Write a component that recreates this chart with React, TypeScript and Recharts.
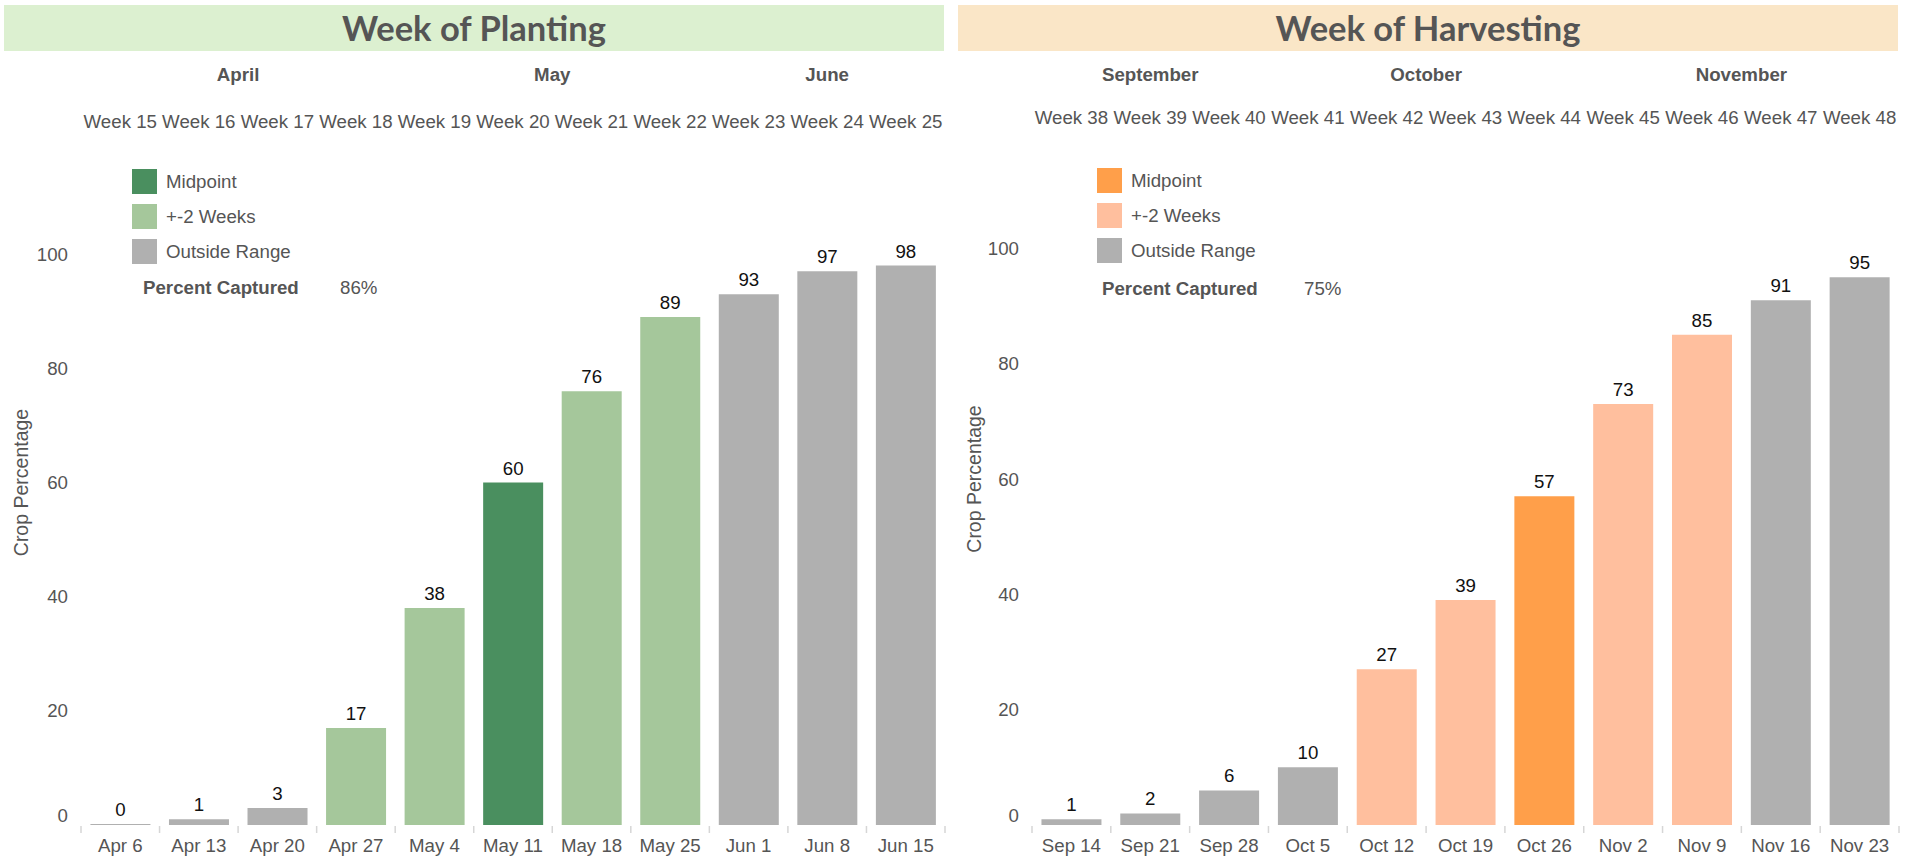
import React from 'react';
import { BarChart, Bar, XAxis, YAxis, Cell, LabelList } from 'recharts';

// ---- data ----
const plantingWeeks = ['Week 15', 'Week 16', 'Week 17', 'Week 18', 'Week 19', 'Week 20', 'Week 21', 'Week 22', 'Week 23', 'Week 24', 'Week 25'];
const plantingDates = ['Apr 6', 'Apr 13', 'Apr 20', 'Apr 27', 'May 4', 'May 11', 'May 18', 'May 25', 'Jun 1', 'Jun 8', 'Jun 15'];
const plantingMonths = ['April', 'April', 'April', 'April', 'May', 'May', 'May', 'May', 'June', 'June', 'June'];
const plantingValues = [0, 1, 3, 17, 38, 60, 76, 89, 93, 97, 98];
const plantingBands = ['out', 'out', 'out', 'near', 'near', 'mid', 'near', 'near', 'out', 'out', 'out'];

const harvestWeeks = ['Week 38', 'Week 39', 'Week 40', 'Week 41', 'Week 42', 'Week 43', 'Week 44', 'Week 45', 'Week 46', 'Week 47', 'Week 48'];
const harvestDates = ['Sep 14', 'Sep 21', 'Sep 28', 'Oct 5', 'Oct 12', 'Oct 19', 'Oct 26', 'Nov 2', 'Nov 9', 'Nov 16', 'Nov 23'];
const harvestMonths = ['September', 'September', 'September', 'October', 'October', 'October', 'October', 'November', 'November', 'November', 'November'];
const harvestValues = [1, 2, 6, 10, 27, 39, 57, 73, 85, 91, 95];
const harvestBands = ['out', 'out', 'out', 'out', 'near', 'near', 'mid', 'near', 'near', 'out', 'out'];

const yTicks = [0, 20, 40, 60, 80, 100];
const legendKeys = ['mid', 'near', 'out'];
const legendNames: Record<string, string> = { mid: 'Midpoint', near: '+-2 Weeks', out: 'Outside Range' };

const GRAY = '#b0b0b0';
const greenColors: Record<string, string> = { mid: '#4a8f5f', near: '#a5c79b', out: GRAY };
const orangeColors: Record<string, string> = { mid: '#ff9f4a', near: '#ffbf9e', out: GRAY };

const FONT = '"Liberation Sans", Arial, sans-serif';
const TEXT = '#555555';
const FS = 18.7;
const H = 856;
const BASE = 825; // y of the zero line

type Layout = {
  left: number; width: number; yAxisWidth: number; marginRight: number; plotTop: number;
  weekDy: number; monthY: number; labelOffset: number;
  legendLeft: number; legendTop: number; legendText: number;
  capLeft: number; capValueLeft: number; capY: number;
  bandLeft: number; bandWidth: number;
};

const plantingLayout: Layout = {
  left: 0, width: 960, yAxisWidth: 81, marginRight: 15, plotTop: 140,
  weekDy: -19, monthY: 74.5, labelOffset: 21,
  legendLeft: 132, legendTop: 169, legendText: 166,
  capLeft: 143, capValueLeft: 340, capY: 288,
  bandLeft: 4, bandWidth: 940,
};

const harvestLayout: Layout = {
  left: 940, width: 976, yAxisWidth: 92, marginRight: 17, plotTop: 133,
  weekDy: -16, monthY: 74.5, labelOffset: 34,
  legendLeft: 1097, legendTop: 168, legendText: 1131,
  capLeft: 1102, capValueLeft: 1304, capY: 289,
  bandLeft: 958, bandWidth: 940,
};

type PanelProps = {
  title: string; titleBg: string; weeks: string[]; dates: string[]; months: string[];
  values: number[]; bands: string[]; colors: Record<string, string>; captured: string; lay: Layout;
};

const Panel: React.FC<PanelProps> = ({ title, titleBg, weeks, dates, months, values, bands, colors, captured, lay }) => {
  const data = dates.map((d, i) => ({ date: d, week: weeks[i], month: months[i], value: values[i], band: bands[i] }));
  const plotWidth = lay.width - lay.yAxisWidth - lay.marginRight;
  const fallbackBw = plotWidth / data.length;

  const topTick = (p: any) => {
    const i = p.payload.index;
    const bw = p.payload.offset ? p.payload.offset * 2 : fallbackBw;
    const first = i === 0 || months[i] !== months[i - 1];
    let count = 0;
    if (first) {
      while (i + count < months.length && months[i + count] === months[i]) count++;
    }
    return (
      <g>
        <text x={p.x} y={p.y + lay.weekDy} dy="0.35em" textAnchor="middle" fill={TEXT} fontSize={FS}>
          {weeks[i]}
        </text>
        {first && (
          <text x={p.x + ((count - 1) * bw) / 2} y={lay.monthY} dy="0.35em" textAnchor="middle" fill={TEXT}
            fontSize={FS} fontWeight="bold">
            {months[i]}
          </text>
        )}
      </g>
    );
  };

  const bottomTick = (p: any) => {
    const i = p.payload.index;
    const bw = p.payload.offset ? p.payload.offset * 2 : fallbackBw;
    return (
      <g>
        <line x1={p.x - bw / 2} x2={p.x - bw / 2} y1={p.y + 1} y2={p.y + 8} stroke="#d6d6d6" strokeWidth={1.5} />
        {i === data.length - 1 && (
          <line x1={p.x + bw / 2} x2={p.x + bw / 2} y1={p.y + 1} y2={p.y + 8} stroke="#d6d6d6" strokeWidth={1.5} />
        )}
        <text x={p.x} y={p.y + 20} dy="0.35em" textAnchor="middle" fill={TEXT} fontSize={FS}>
          {p.payload.value}
        </text>
      </g>
    );
  };

  const yTick = (p: any) => (
    <text x={p.x} y={p.y + (p.payload.value === 0 ? -10 : 0)} dy="0.35em" textAnchor="end" fill={TEXT} fontSize={FS}>
      {p.payload.value}
    </text>
  );

  return (
    <>
      <div style={{
        position: 'absolute', left: lay.bandLeft, top: 5, width: lay.bandWidth, height: 46, background: titleBg,
        color: TEXT, fontFamily: 'Lato, "Open Sans", sans-serif', fontWeight: 700, fontSize: 34.5,
        lineHeight: '46px', textAlign: 'center',
      }}>
        {title}
      </div>
      <div style={{ position: 'absolute', left: lay.left, top: 0, fontFamily: FONT }}>
        <BarChart width={lay.width} height={H} data={data} barCategoryGap="12%"
          margin={{ top: 0, right: lay.marginRight, bottom: 0, left: 0 }}>
          <XAxis xAxisId="top" orientation="top" dataKey="week" height={lay.plotTop} axisLine={false} tickLine={false}
            tickSize={0} tickMargin={0} interval={0} tick={topTick} />
          <XAxis dataKey="date" height={H - BASE} axisLine={false} tickLine={false} tickSize={0} tickMargin={0}
            interval={0} tick={bottomTick} />
          <YAxis width={lay.yAxisWidth} domain={[0, 120]} ticks={yTicks} axisLine={false} tickLine={false}
            tickSize={0} tickMargin={13} tick={yTick}
            label={{ value: 'Crop Percentage', angle: -90, position: 'insideLeft', offset: lay.labelOffset,
              fill: TEXT, fontSize: 19.5, style: { textAnchor: 'middle' } }} />
          <Bar dataKey="value" isAnimationActive={false} minPointSize={1}>
            {data.map((d, i) => <Cell key={i} fill={colors[d.band]} />)}
            <LabelList dataKey="value" position="top" offset={8} fill="#111" fontSize={FS} />
          </Bar>
        </BarChart>
      </div>
      {legendKeys.map((k, i) => (
        <React.Fragment key={k}>
          <div style={{ position: 'absolute', left: lay.legendLeft, top: lay.legendTop + i * 35, width: 25, height: 25,
            background: colors[k] }} />
          <div style={{ position: 'absolute', left: lay.legendText, top: lay.legendTop + i * 35, height: 25,
            lineHeight: '25px', fontFamily: FONT, fontSize: FS, color: TEXT, whiteSpace: 'nowrap' }}>
            {legendNames[k]}
          </div>
        </React.Fragment>
      ))}
      <div style={{ position: 'absolute', left: lay.capLeft, top: lay.capY - 12, height: 24, lineHeight: '24px',
        fontFamily: FONT, fontSize: FS, fontWeight: 700, color: TEXT, whiteSpace: 'nowrap' }}>
        Percent Captured
      </div>
      <div style={{ position: 'absolute', left: lay.capValueLeft, top: lay.capY - 12, height: 24, lineHeight: '24px',
        fontFamily: FONT, fontSize: FS, color: TEXT }}>
        {captured}
      </div>
    </>
  );
};

export default function App() {
  return (
    <div style={{ position: 'absolute', left: 0, top: 0, width: 1916, height: H, background: '#fff', overflow: 'hidden' }}>
      <Panel title="Week of Planting" titleBg="#dcf0d0" weeks={plantingWeeks} dates={plantingDates}
        months={plantingMonths} values={plantingValues} bands={plantingBands} colors={greenColors}
        captured="86%" lay={plantingLayout} />
      <Panel title="Week of Harvesting" titleBg="#fae6c7" weeks={harvestWeeks} dates={harvestDates}
        months={harvestMonths} values={harvestValues} bands={harvestBands} colors={orangeColors}
        captured="75%" lay={harvestLayout} />
    </div>
  );
}
